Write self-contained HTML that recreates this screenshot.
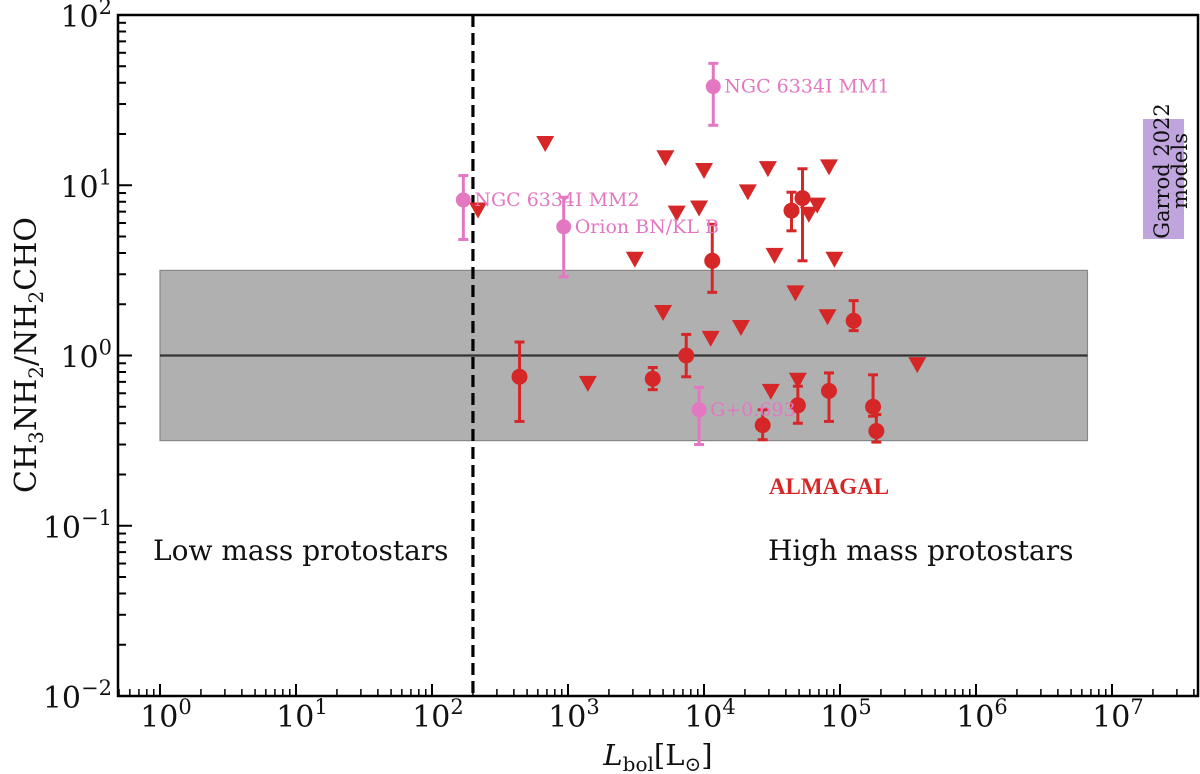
<!DOCTYPE html>
<html><head><meta charset="utf-8"><style>
body{margin:0;background:#fff;}
svg{display:block;font-family:"DejaVu Serif","Liberation Serif",serif;}
</style></head><body>
<svg id="chart" width="1200" height="774" viewBox="0 0 1200 774" xmlns="http://www.w3.org/2000/svg">
<g id="plot"></g>
</svg>
<script>
// ---- data ----
const pinkNames = ["NGC 6334I MM1","NGC 6334I MM2","Orion BN/KL B","G+0.693"];
const pinkL = [1.17e4, 170, 930, 9.2e3];
const pinkR = [38, 8.2, 5.7, 0.48];
const pinkHi = [52, 11.4, 8.5, 0.65];
const pinkLo = [22.5, 4.8, 2.9, 0.30];

const detL = [440, 4200, 7400, 1.15e4, 4.4e4, 5.3e4, 1.26e5, 2.7e4, 4.9e4, 8.3e4, 1.75e5, 1.85e5];
const detR = [0.75, 0.73, 1.0, 3.6, 7.1, 8.4, 1.6, 0.39, 0.51, 0.62, 0.50, 0.36];
const detHi = [1.2, 0.85, 1.33, 5.9, 9.1, 12.5, 2.1, 0.48, 0.66, 0.79, 0.77, 0.45];
const detLo = [0.41, 0.63, 0.75, 2.35, 5.4, 3.6, 1.4, 0.32, 0.40, 0.41, 0.44, 0.31];

const limL = [680, 218, 5.2e3, 1.0e4, 2.95e4, 8.3e4, 2.1e4, 6.3e3, 9.2e3, 6.8e4, 5.9e4, 3.1e3, 3.3e4, 9.1e4, 4.7e4, 5.0e3, 8.1e4, 1.87e4, 1.12e4, 3.7e5, 1.4e3, 3.1e4, 4.9e4];
const limR = [17.7, 7.2, 14.6, 12.3, 12.6, 12.9, 9.2, 6.9, 7.4, 7.7, 6.8, 3.7, 3.9, 3.7, 2.35, 1.8, 1.7, 1.47, 1.27, 0.89, 0.69, 0.62, 0.72];

const xTickExps = [0,1,2,3,4,5,6,7];
const yTickExps = [-2,-1,0,1,2];

// ---- axes ----
const X0=160, XD=136, YT=15, YB=696, L=118, R=1198;
const YD=(YB-YT)/4;
function xs(v){return X0+Math.log10(v)*XD;}
function ys(v){return YB-(Math.log10(v)+2)*YD;}

const NS="http://www.w3.org/2000/svg";
const g=document.getElementById('plot');
function el(tag,attrs,parent){const e=document.createElementNS(NS,tag);for(const k in attrs)e.setAttribute(k,attrs[k]);(parent||g).appendChild(e);return e;}

// band
let e=el('rect',{x:xs(1),y:ys(10**0.5),width:xs(6.6e6)-xs(1),height:ys(10**-0.5)-ys(10**0.5),fill:'#b0b0b0',stroke:'#888','stroke-width':1.2});


e=el('line',{x1:xs(1),x2:xs(6.6e6),y1:ys(1),y2:ys(1),stroke:'#333','stroke-width':2.2});



// garrod box
e=el('rect',{x:1143,y:119,width:41,height:120,fill:'#b494d8',opacity:0.85});


e=el('text',{transform:'translate(1170,171) rotate(-90)','text-anchor':'middle','font-size':21,fill:'#111'});


e.innerHTML='<tspan x="0" dy="-1">Garrod 2022</tspan><tspan x="0" dy="18">models</tspan>';

// dashed line
e=el('line',{x1:xs(200),x2:xs(200),y1:YT,y2:YB,stroke:'#000','stroke-width':3.2,'stroke-dasharray':'12,6'});



function errbar(x,hi,lo,color,w){
  el('line',{x1:x,x2:x,y1:ys(hi),y2:ys(lo),stroke:color,'stroke-width':w});
  el('line',{x1:x-5,x2:x+5,y1:ys(hi),y2:ys(hi),stroke:color,'stroke-width':w});
  el('line',{x1:x-5,x2:x+5,y1:ys(lo),y2:ys(lo),stroke:color,'stroke-width':w});
}
const RED='#d62728', PINK='#e377c2';

limL.forEach((l,i)=>{
  const x=xs(l), y=ys(limR[i]);
  const t=el('polygon',{points:`${x-9},${y-7} ${x+9},${y-7} ${x},${y+9}`,fill:RED});
  
  
});
detL.forEach((l,i)=>{
  const x=xs(l);
  errbar(x,detHi[i],detLo[i],RED,3);
  const c=el('circle',{cx:x,cy:ys(detR[i]),r:8,fill:RED});
  
  
});
pinkL.forEach((l,i)=>{
  const x=xs(l);
  errbar(x,pinkHi[i],pinkLo[i],PINK,3);
  const c=el('circle',{cx:x,cy:ys(pinkR[i]),r:7.5,fill:PINK});
  
  
  const t=el('text',{x:x+11,y:ys(pinkR[i])+6,'font-size':19,fill:PINK});
  
  
  t.textContent=pinkNames[i];
});

e=el('text',{x:153,y:560,'font-size':28,fill:'#111'});e.textContent='Low mass protostars';


e=el('text',{x:768,y:560,'font-size':28,fill:'#111'});e.textContent='High mass protostars';


e=el('text',{x:829,y:494,'font-size':23,'font-weight':'bold',fill:RED,'text-anchor':'middle','font-family':'Liberation Serif, serif'});e.textContent='ALMAGAL';



e=el('rect',{x:L,y:YT,width:R-L,height:YB-YT,fill:'none',stroke:'#000','stroke-width':2.5});



for(let d=-1; d<=7; d++){
  for(let m=1;m<10;m++){
    const v=m*10**d, x=xs(v);
    if(x<L+1||x>R-1) continue;
    el('line',{x1:x,x2:x,y1:YB,y2:YB-(m==1?12:7),stroke:'#000','stroke-width':m==1?2:1.5});
  }
}
xTickExps.forEach(p=>{
  const t=el('text',{x:xs(10**p)+6,y:727,'font-size':30,'text-anchor':'middle',fill:'#111'});
  
  
  t.innerHTML=`10<tspan dy="-13" font-size="21">${p}</tspan>`;
});
for(let d=-2; d<2; d++){
  for(let m=1;m<10;m++){
    const v=m*10**d, y=ys(v);
    el('line',{x1:L,x2:L+(m==1?14:8),y1:y,y2:y,stroke:'#000','stroke-width':m==1?2:2});
  }
}
yTickExps.forEach(p=>{
  const t=el('text',{x:112,y:ys(10**p)+12,'font-size':30,'text-anchor':'end',fill:'#111'});
  
  
  const s=p<0?'\u2212'+(-p):''+p;
  t.innerHTML=`10<tspan dy="-13" font-size="21">${s}</tspan>`;
});
e=el('text',{transform:'translate(36,355) rotate(-90)','text-anchor':'middle','font-size':30,fill:'#111'});


e.innerHTML='CH<tspan dy="7" font-size="20">3</tspan><tspan dy="-7">NH</tspan><tspan dy="7" font-size="20">2</tspan><tspan dy="-7">/NH</tspan><tspan dy="7" font-size="20">2</tspan><tspan dy="-7">CHO</tspan>';
e=el('text',{x:658,y:765,'text-anchor':'middle','font-size':29,fill:'#111'});


e.innerHTML='<tspan font-style="italic">L</tspan><tspan dy="6" font-size="20">bol</tspan><tspan dy="-6">[L</tspan><tspan dy="6" font-size="20">⊙</tspan><tspan dy="-6">]</tspan>';
</script>
</body></html>
